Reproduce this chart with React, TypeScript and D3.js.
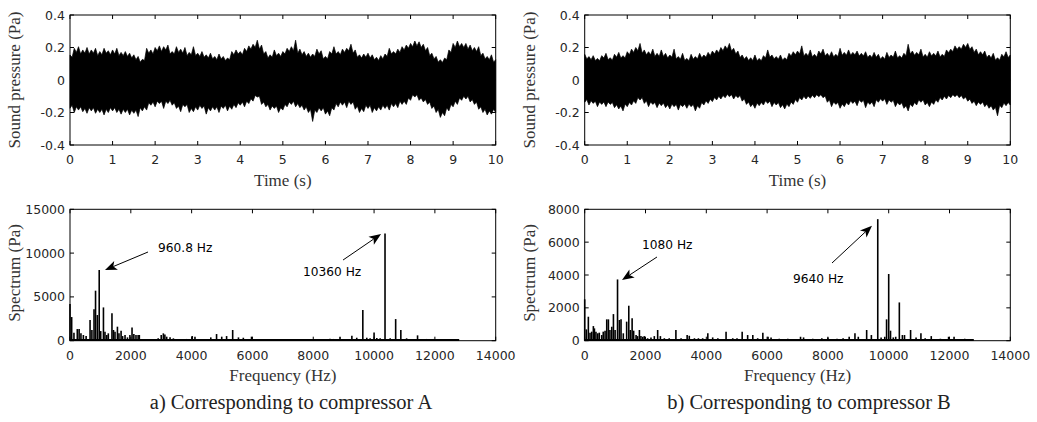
import React from "react";
import * as d3 from "d3";

// ---------- data ----------
const TIME_TICKS = [0, 1, 2, 3, 4, 5, 6, 7, 8, 9, 10];
const P_TICKS = [-0.4, -0.2, 0, 0.2, 0.4];
const F_TICKS = [0, 2000, 4000, 6000, 8000, 10000, 12000, 14000];
const SA_TICKS = [0, 5000, 10000, 15000];
const SB_TICKS = [0, 2000, 4000, 6000, 8000];

// envelope peaks sampled every 0.1 s (0..10 s), valleys at the half steps (0.05..9.95 s)
const PEAK_TIME = d3.range(0, 101).map((i) => i / 10);
const VALLEY_TIME = d3.range(0, 100).map((i) => i / 10 + 0.05);

const A_UPPER = [
  0.154, 0.195, 0.205, 0.185, 0.2, 0.185, 0.195, 0.175, 0.195, 0.18,
  0.185, 0.195, 0.17, 0.175, 0.165, 0.155, 0.145, 0.127, 0.195, 0.185,
  0.2, 0.21, 0.205, 0.215, 0.175, 0.205, 0.19, 0.2, 0.17, 0.205,
  0.165, 0.175, 0.155, 0.165, 0.145, 0.16, 0.145, 0.135, 0.175, 0.185,
  0.175, 0.195, 0.21, 0.22, 0.245, 0.215, 0.175, 0.155, 0.185, 0.165,
  0.175, 0.195, 0.205, 0.245, 0.19, 0.175, 0.165, 0.16, 0.19, 0.18,
  0.145, 0.175, 0.205, 0.175, 0.19, 0.195, 0.22, 0.185, 0.155, 0.16,
  0.165, 0.155, 0.14, 0.15, 0.16, 0.195, 0.175, 0.19, 0.205, 0.215,
  0.225, 0.24, 0.235, 0.22, 0.2, 0.165, 0.145, 0.125, 0.135, 0.185,
  0.225, 0.24, 0.225, 0.225, 0.215, 0.2, 0.205, 0.165, 0.145, 0.155,
  0.125,
];
const A_UPPER_VALLEY = [
  0.14, 0.17, 0.16, 0.165, 0.16, 0.165, 0.15, 0.155, 0.165, 0.155,
  0.16, 0.15, 0.15, 0.145, 0.135, 0.125, 0.11, 0.12, 0.165, 0.16,
  0.18, 0.175, 0.185, 0.16, 0.16, 0.17, 0.165, 0.15, 0.155, 0.15,
  0.145, 0.14, 0.135, 0.13, 0.125, 0.13, 0.12, 0.125, 0.155, 0.16,
  0.155, 0.175, 0.19, 0.2, 0.19, 0.16, 0.135, 0.14, 0.15, 0.145,
  0.16, 0.175, 0.18, 0.165, 0.155, 0.145, 0.14, 0.145, 0.16, 0.13,
  0.13, 0.16, 0.16, 0.155, 0.17, 0.18, 0.165, 0.14, 0.135, 0.14,
  0.135, 0.125, 0.12, 0.13, 0.145, 0.16, 0.16, 0.17, 0.185, 0.195,
  0.205, 0.21, 0.2, 0.18, 0.15, 0.13, 0.11, 0.108, 0.125, 0.17,
  0.2, 0.205, 0.2, 0.19, 0.18, 0.175, 0.15, 0.13, 0.125, 0.11,
];
const A_LOWER = [
  -0.174, -0.2, -0.185, -0.195, -0.205, -0.19, -0.205, -0.2, -0.215, -0.2,
  -0.19, -0.2, -0.21, -0.2, -0.215, -0.205, -0.225, -0.19, -0.185, -0.155,
  -0.165, -0.145, -0.175, -0.145, -0.155, -0.175, -0.195, -0.165, -0.2, -0.195,
  -0.185, -0.175, -0.21, -0.19, -0.185, -0.2, -0.175, -0.19, -0.18, -0.17,
  -0.155, -0.165, -0.145, -0.13, -0.105, -0.15, -0.165, -0.185, -0.175, -0.2,
  -0.185, -0.165, -0.15, -0.165, -0.17, -0.185, -0.2, -0.255, -0.2, -0.19,
  -0.21, -0.22, -0.185, -0.165, -0.155, -0.17, -0.15, -0.18, -0.2, -0.195,
  -0.175, -0.2, -0.19, -0.185, -0.175, -0.185, -0.165, -0.17, -0.15, -0.15,
  -0.125, -0.105, -0.125, -0.135, -0.15, -0.175, -0.2, -0.23, -0.22, -0.19,
  -0.165, -0.15, -0.125, -0.117, -0.135, -0.15, -0.18, -0.2, -0.215, -0.21,
  -0.2,
];
const A_LOWER_VALLEY = [
  -0.155, -0.165, -0.165, -0.175, -0.17, -0.17, -0.18, -0.18, -0.18, -0.17,
  -0.17, -0.18, -0.18, -0.18, -0.185, -0.185, -0.17, -0.165, -0.14, -0.135,
  -0.13, -0.13, -0.13, -0.125, -0.14, -0.16, -0.15, -0.15, -0.175, -0.165,
  -0.155, -0.16, -0.17, -0.165, -0.165, -0.16, -0.155, -0.16, -0.15, -0.14,
  -0.135, -0.13, -0.115, -0.095, -0.1, -0.135, -0.15, -0.16, -0.16, -0.17,
  -0.15, -0.135, -0.13, -0.145, -0.155, -0.165, -0.18, -0.185, -0.17, -0.17,
  -0.19, -0.17, -0.145, -0.135, -0.135, -0.13, -0.135, -0.16, -0.175, -0.155,
  -0.155, -0.17, -0.165, -0.155, -0.155, -0.145, -0.145, -0.13, -0.13, -0.11,
  -0.09, -0.09, -0.11, -0.12, -0.135, -0.16, -0.18, -0.2, -0.17, -0.15,
  -0.13, -0.11, -0.1, -0.1, -0.12, -0.135, -0.165, -0.18, -0.19, -0.18,
];
const B_UPPER = [
  0.158, 0.144, 0.15, 0.133, 0.15, 0.164, 0.137, 0.158, 0.17, 0.15,
  0.174, 0.19, 0.2, 0.225, 0.185, 0.174, 0.19, 0.164, 0.185, 0.164,
  0.154, 0.19, 0.144, 0.164, 0.133, 0.158, 0.144, 0.164, 0.154, 0.17,
  0.178, 0.185, 0.2, 0.21, 0.225, 0.195, 0.178, 0.154, 0.144, 0.137,
  0.154, 0.133, 0.15, 0.185, 0.154, 0.144, 0.154, 0.137, 0.164, 0.174,
  0.178, 0.21, 0.164, 0.185, 0.158, 0.178, 0.19, 0.164, 0.174, 0.158,
  0.195, 0.17, 0.185, 0.17, 0.178, 0.164, 0.174, 0.154, 0.17, 0.158,
  0.144, 0.17, 0.154, 0.178, 0.15, 0.164, 0.22, 0.178, 0.17, 0.19,
  0.158, 0.174, 0.164, 0.178, 0.158, 0.185, 0.19, 0.21, 0.205, 0.22,
  0.225, 0.205, 0.19, 0.174, 0.178, 0.154, 0.164, 0.137, 0.158, 0.174,
  0.154,
];
const B_UPPER_VALLEY = [
  0.13, 0.125, 0.12, 0.118, 0.135, 0.125, 0.122, 0.14, 0.135, 0.135,
  0.155, 0.17, 0.18, 0.165, 0.155, 0.155, 0.145, 0.145, 0.145, 0.135,
  0.14, 0.13, 0.128, 0.12, 0.118, 0.128, 0.13, 0.135, 0.14, 0.15,
  0.16, 0.168, 0.18, 0.19, 0.178, 0.16, 0.138, 0.128, 0.12, 0.12,
  0.118, 0.118, 0.135, 0.14, 0.13, 0.128, 0.122, 0.125, 0.148, 0.155,
  0.16, 0.148, 0.148, 0.142, 0.14, 0.16, 0.148, 0.145, 0.142, 0.145,
  0.152, 0.152, 0.152, 0.155, 0.148, 0.148, 0.138, 0.138, 0.14, 0.128,
  0.128, 0.138, 0.14, 0.135, 0.135, 0.15, 0.16, 0.152, 0.155, 0.142,
  0.14, 0.148, 0.148, 0.142, 0.145, 0.168, 0.175, 0.188, 0.19, 0.2,
  0.188, 0.17, 0.155, 0.155, 0.138, 0.135, 0.122, 0.122, 0.142, 0.138,
];
const B_LOWER = [
  -0.137, -0.154, -0.144, -0.164, -0.15, -0.164, -0.15, -0.17, -0.178, -0.19,
  -0.164, -0.154, -0.144, -0.123, -0.144, -0.164, -0.15, -0.17, -0.158, -0.17,
  -0.178, -0.164, -0.185, -0.164, -0.174, -0.164, -0.19, -0.174, -0.154, -0.144,
  -0.133, -0.123, -0.117, -0.109, -0.103, -0.117, -0.109, -0.13, -0.15, -0.164,
  -0.174, -0.158, -0.154, -0.144, -0.164, -0.154, -0.17, -0.178, -0.164, -0.15,
  -0.137, -0.123, -0.117, -0.113, -0.109, -0.103, -0.109, -0.137, -0.164, -0.15,
  -0.174, -0.164, -0.154, -0.144, -0.158, -0.137, -0.17, -0.15, -0.164, -0.137,
  -0.13, -0.15, -0.137, -0.164, -0.154, -0.174, -0.19, -0.164, -0.154, -0.137,
  -0.154, -0.164, -0.15, -0.137, -0.123, -0.117, -0.109, -0.103, -0.109, -0.117,
  -0.13, -0.144, -0.158, -0.15, -0.164, -0.174, -0.185, -0.22, -0.17, -0.158,
  -0.154,
];
const B_LOWER_VALLEY = [
  -0.12, -0.128, -0.13, -0.135, -0.135, -0.135, -0.138, -0.152, -0.16, -0.148,
  -0.138, -0.128, -0.108, -0.108, -0.128, -0.135, -0.138, -0.142, -0.142, -0.152,
  -0.148, -0.15, -0.15, -0.148, -0.148, -0.15, -0.158, -0.138, -0.128, -0.118,
  -0.108, -0.1, -0.095, -0.088, -0.09, -0.095, -0.095, -0.115, -0.135, -0.148,
  -0.142, -0.138, -0.128, -0.13, -0.138, -0.138, -0.152, -0.148, -0.135, -0.12,
  -0.108, -0.1, -0.098, -0.094, -0.09, -0.09, -0.098, -0.122, -0.135, -0.138,
  -0.148, -0.138, -0.128, -0.13, -0.122, -0.125, -0.135, -0.135, -0.122, -0.115,
  -0.115, -0.122, -0.125, -0.138, -0.14, -0.158, -0.148, -0.138, -0.122, -0.122,
  -0.138, -0.135, -0.122, -0.108, -0.1, -0.095, -0.09, -0.09, -0.095, -0.105,
  -0.118, -0.13, -0.135, -0.135, -0.148, -0.158, -0.168, -0.155, -0.142, -0.138,
];

const SPEC_A_FREQ = [
  0, 55, 130, 240, 300, 360, 440, 530, 660, 720,
  790, 840, 900, 960.8, 1010, 1100, 1150, 1210, 1260, 1380,
  1430, 1480, 1560, 1610, 1680, 1730, 1810, 1890, 1970, 2040,
  2100, 2170, 2240, 2280, 2520, 2740, 2900, 3000, 3070, 3120,
  3180, 3290, 3400, 3620, 3840, 4020, 4110, 4280, 4440, 4630,
  4820, 4990, 5150, 5350, 5540, 5700, 5970, 6250, 6580, 7240,
  8010, 8550, 8660, 8880, 9270, 9430, 9630, 9760, 9870, 10000,
  10090, 10200, 10360, 10530, 10710, 10880, 11070, 11430, 11730, 11950,
  12390,
];
const SPEC_A_AMP = [
  4200, 2700, 900, 1330, 1330, 840, 650, 530, 2360, 1220,
  3580, 5710, 2930, 8070, 1100, 3800, 1030, 650, 840, 3120,
  1220, 1030, 1600, 840, 1140, 530, 650, 380, 650, 1520,
  760, 650, 650, 650, 150, 150, 270, 650, 840, 720,
  460, 380, 270, 200, 200, 530, 460, 200, 200, 380,
  760, 460, 530, 1220, 380, 340, 460, 150, 150, 120,
  120, 230, 200, 460, 570, 340, 3500, 340, 270, 950,
  300, 270, 12250, 270, 2470, 1220, 270, 610, 200, 200,
  120,
];
const SPEC_B_FREQ = [
  0, 55, 120, 175, 230, 285, 320, 370, 430, 480,
  560, 610, 670, 725, 780, 830, 890, 945, 1000, 1080,
  1140, 1195, 1270, 1380, 1450, 1500, 1560, 1610, 1690, 1740,
  1800, 1850, 1910, 1960, 2070, 2180, 2290, 2400, 2490, 2620,
  2780, 3000, 3170, 3370, 3440, 3610, 3740, 3880, 4050, 4210,
  4380, 4650, 4870, 5010, 5180, 5360, 5530, 5690, 5860, 6030,
  6130, 6400, 6680, 7100, 7200, 7500, 7800, 8000, 8300, 8500,
  8700, 8890, 9000, 9275, 9430, 9640, 9750, 9870, 9930, 10000,
  10060, 10150, 10230, 10350, 10450, 10520, 10720, 10900, 11060, 11200,
  11400, 11700, 11970, 12150, 12500,
];
const SPEC_B_AMP = [
  2520, 690, 1460, 490, 550, 890, 750, 550, 450, 490,
  345, 550, 610, 1300, 1300, 650, 850, 1620, 650, 3730,
  1260, 1300, 450, 1160, 2130, 650, 1360, 610, 345, 280,
  650, 280, 240, 280, 150, 200, 280, 650, 280, 150,
  150, 650, 150, 345, 300, 150, 150, 150, 450, 200,
  150, 550, 150, 150, 550, 345, 345, 150, 490, 240,
  200, 120, 120, 240, 200, 120, 150, 200, 120, 150,
  240, 450, 240, 650, 345, 7400, 200, 240, 1300, 4060,
  610, 200, 240, 2330, 345, 345, 650, 200, 450, 150,
  280, 120, 240, 240, 120,
];
const SPEC_MAX_FREQ = 12800;

// annotations: label, text anchor point [f, v], arrow tail [f, v], arrow tip [f, v]
const ANNOT_A = [
  { label: "960.8 Hz", text: [2895, 10600], from: [2566, 10126], to: [1151, 8070] },
  { label: "10360 Hz", text: [7664, 7880], from: [8980, 9212], to: [10230, 12180] },
];
const ANNOT_B = [
  { label: "1080 Hz", text: [1885, 5830], from: [2378, 5096], to: [1227, 3696] },
  { label: "9640 Hz", text: [6852, 3760], from: [8135, 4730], to: [9451, 7001] },
];

// ---------- drawing helpers ----------
const SANS = "'DejaVu Sans', sans-serif";
const SERIF = "'Liberation Serif', 'Times New Roman', serif";
const TICK_FS = 12.5;
const LABEL_FS = 17;

type Scale = d3.ScaleLinear<number, number>;

function Frame({ x, y, xTicks, yTicks, xFmt, yFmt }: { x: Scale; y: Scale; xTicks: number[]; yTicks: number[]; xFmt: (v: number) => string; yFmt: (v: number) => string }) {
  const [x0, x1] = x.range();
  const [y0, y1] = y.range();
  const tl = 4;
  return (
    <g>
      {xTicks.map((t) => (
        <g key={"xt" + t}>
          <line x1={x(t)} x2={x(t)} y1={y0} y2={y0 - tl} stroke="#000" strokeWidth={1} />
          <line x1={x(t)} x2={x(t)} y1={y1} y2={y1 + tl} stroke="#000" strokeWidth={1} />
          <text x={x(t)} y={y0 + 19} textAnchor="middle" fontFamily={SANS} fontSize={TICK_FS} fill="#262626">
            {xFmt(t)}
          </text>
        </g>
      ))}
      {yTicks.map((t) => (
        <g key={"yt" + t}>
          <line x1={x0} x2={x0 + tl} y1={y(t)} y2={y(t)} stroke="#000" strokeWidth={1} />
          <line x1={x1} x2={x1 - tl} y1={y(t)} y2={y(t)} stroke="#000" strokeWidth={1} />
          <text x={x0 - 5} y={y(t)} dy="0.36em" textAnchor="end" fontFamily={SANS} fontSize={TICK_FS} fill="#262626">
            {yFmt(t)}
          </text>
        </g>
      ))}
      <rect x={x0} y={y1} width={x1 - x0} height={y0 - y1} fill="none" stroke="#000" strokeWidth={1} />
    </g>
  );
}

function Arrow({ x1, y1, x2, y2 }: { x1: number; y1: number; x2: number; y2: number }) {
  const ang = Math.atan2(y2 - y1, x2 - x1);
  const L = 12, W = 4.8, N = 9;
  const ux = Math.cos(ang), uy = Math.sin(ang);
  const px = -uy, py = ux;
  const bx = x2 - ux * L, by = y2 - uy * L;
  const nx = x2 - ux * N, ny = y2 - uy * N;
  const head = `M${x2},${y2}L${bx + px * W},${by + py * W}L${nx},${ny}L${bx - px * W},${by - py * W}Z`;
  return (
    <g>
      <line x1={x1} y1={y1} x2={nx} y2={ny} stroke="#000" strokeWidth={1} />
      <path d={head} fill="#000" />
    </g>
  );
}

type EnvPt = { t: number; hi: number; lo: number };

function TimePanel({ x0, x1, upper, upperV, lower, lowerV }: { x0: number; x1: number; upper: number[]; upperV: number[]; lower: number[]; lowerV: number[] }) {
  const x = d3.scaleLinear().domain([0, 10]).range([x0, x1]);
  const y = d3.scaleLinear().domain([-0.4, 0.4]).range([145, 15]);
  const pts: EnvPt[] = [];
  PEAK_TIME.forEach((t, i) => {
    pts.push({ t, hi: upper[i], lo: lower[i] });
    if (i < VALLEY_TIME.length) pts.push({ t: VALLEY_TIME[i], hi: upperV[i], lo: lowerV[i] });
  });
  const area = d3
    .area<EnvPt>()
    .x((d) => x(d.t))
    .y0((d) => y(d.lo))
    .y1((d) => y(d.hi))
    .curve(d3.curveLinear);
  const cx = (x0 + x1) / 2;
  return (
    <g>
      <path d={area(pts) || ""} fill="#000" stroke="#000" strokeWidth={0.7} strokeLinejoin="miter" />
      <Frame x={x} y={y} xTicks={TIME_TICKS} yTicks={P_TICKS} xFmt={(v) => String(v)} yFmt={(v) => String(v)} />
      <text x={cx} y={186} textAnchor="middle" fontFamily={SERIF} fontSize={LABEL_FS} fill="#333">
        Time (s)
      </text>
      <text transform={`translate(${x0 - 50},80) rotate(-90)`} textAnchor="middle" fontFamily={SERIF} fontSize={LABEL_FS} fill="#333">
        Sound pressure (Pa)
      </text>
    </g>
  );
}

function SpecPanel({ x0, x1, freqs, amps, ymax, yTicks, annots }: { x0: number; x1: number; freqs: number[]; amps: number[]; ymax: number; yTicks: number[]; annots: typeof ANNOT_A }) {
  const x = d3.scaleLinear().domain([0, 14000]).range([x0, x1]);
  const y = d3.scaleLinear().domain([0, ymax]).range([340.7, 209.3]);
  const cx = (x0 + x1) / 2;
  return (
    <g>
      <line x1={x(0)} x2={x(SPEC_MAX_FREQ)} y1={y(0) - 0.8} y2={y(0) - 0.8} stroke="#000" strokeWidth={2} />
      {freqs.map((f, i) => (
        <line key={i} x1={x(f)} x2={x(f)} y1={y(0)} y2={y(amps[i])} stroke="#000" strokeWidth={1.6} />
      ))}
      <Frame x={x} y={y} xTicks={F_TICKS} yTicks={yTicks} xFmt={(v) => String(v)} yFmt={(v) => String(v)} />
      {annots.map((a) => (
        <g key={a.label}>
          <Arrow x1={x(a.from[0])} y1={y(a.from[1])} x2={x(a.to[0])} y2={y(a.to[1])} />
          <text x={x(a.text[0])} y={y(a.text[1])} dy="0.36em" fontFamily={SANS} fontSize={12.2} fill="#000">
            {a.label}
          </text>
        </g>
      ))}
      <text x={cx} y={381} textAnchor="middle" fontFamily={SERIF} fontSize={LABEL_FS} fill="#333">
        Frequency (Hz)
      </text>
      <text transform={`translate(${x0 - 50},273) rotate(-90)`} textAnchor="middle" fontFamily={SERIF} fontSize={LABEL_FS} fill="#333">
        Spectrum (Pa)
      </text>
    </g>
  );
}

export default function App() {
  const AX0 = 70, AX1 = 495.7, BX0 = 584.7, BX1 = 1010.3;
  return (
    <svg width={1037} height={422} style={{ position: "absolute", left: 0, top: 0, background: "#fff" }}>
      <rect x={0} y={0} width={1037} height={422} fill="#fff" />
      <TimePanel x0={AX0} x1={AX1} upper={A_UPPER} upperV={A_UPPER_VALLEY} lower={A_LOWER} lowerV={A_LOWER_VALLEY} />
      <TimePanel x0={BX0} x1={BX1} upper={B_UPPER} upperV={B_UPPER_VALLEY} lower={B_LOWER} lowerV={B_LOWER_VALLEY} />
      <SpecPanel x0={AX0} x1={AX1} freqs={SPEC_A_FREQ} amps={SPEC_A_AMP} ymax={15000} yTicks={SA_TICKS} annots={ANNOT_A} />
      <SpecPanel x0={BX0} x1={BX1} freqs={SPEC_B_FREQ} amps={SPEC_B_AMP} ymax={8000} yTicks={SB_TICKS} annots={ANNOT_B} />
      <text x={291} y={409} textAnchor="middle" fontFamily={SERIF} fontSize={20.5} fill="#222">
        a) Corresponding to compressor A
      </text>
      <text x={809} y={409} textAnchor="middle" fontFamily={SERIF} fontSize={20.5} fill="#222">
        b) Corresponding to compressor B
      </text>
    </svg>
  );
}
